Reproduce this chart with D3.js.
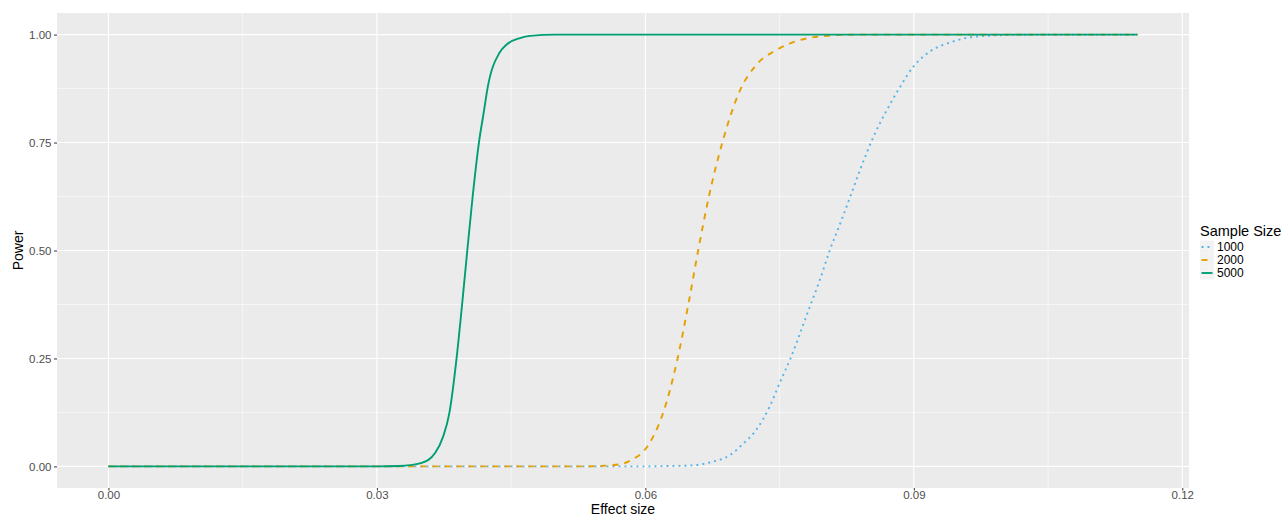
<!DOCTYPE html>
<html>
<head>
<meta charset="utf-8">
<script src="https://cdn.jsdelivr.net/npm/d3@7"></script>
<style>
  html, body { margin: 0; padding: 0; background: #ffffff; }
  svg { display: block; font-family: "Liberation Sans", Arial, Helvetica, sans-serif; }
</style>
</head>
<body>
<svg id="chart" width="1288" height="517"></svg>
<script>
// ---- Data ----
const sampleSizes = ["1000", "2000", "5000"];

const effect1000 = [0, 0.050, 0.0594, 0.0627, 0.0650, 0.0672, 0.0695, 0.0709, 0.0724, 0.0739, 0.0750, 0.0762, 0.0773, 0.0784, 0.0795, 0.0806, 0.0818, 0.0829, 0.0840, 0.0855, 0.0870, 0.0885, 0.0900, 0.0918, 0.0941, 0.0967, 0.1004, 0.1040, 0.115];
const power1000  = [0, 0,     0,      0.001,  0.002,  0.009,  0.027,  0.052,  0.085,  0.139,  0.193,  0.249,  0.309,  0.371,  0.432,  0.500,  0.564,  0.625,  0.687,  0.764,  0.826,  0.880,  0.927,  0.961,  0.982,  0.995,  0.999,  1,      1];

const effect2000 = [0, 0.050, 0.0527, 0.0549, 0.0572, 0.0586, 0.0598, 0.0609, 0.0620, 0.0636, 0.0648, 0.0659, 0.0671, 0.0686, 0.0706, 0.0724, 0.0747, 0.0769, 0.0792, 0.0836, 0.115];
const power2000  = [0, 0,     0,      0.001,  0.005,  0.017,  0.035,  0.070,  0.125,  0.250,  0.375,  0.500,  0.625,  0.750,  0.872,  0.930,  0.965,  0.985,  0.995,  1,      1];

const effect5000 = [0, 0.030, 0.0325, 0.0337, 0.0350, 0.0365, 0.0374, 0.0381, 0.0389, 0.0395, 0.0401, 0.0407, 0.0414, 0.0419, 0.0424, 0.0437, 0.0445, 0.0460, 0.0471, 0.0500, 0.115];
const power5000  = [0, 0,     0.001,  0.003,  0.008,  0.031,  0.069,  0.124,  0.250,  0.371,  0.500,  0.625,  0.750,  0.815,  0.880,  0.958,  0.977,  0.992,  0.997,  1,      1];

const xTicks = [0, 0.03, 0.06, 0.09, 0.12];
const xMinor = [0.015, 0.045, 0.075, 0.105];
const yTicks = [0, 0.25, 0.5, 0.75, 1];
const yMinor = [0.125, 0.375, 0.625, 0.875];

const seriesColors = ["#56B4E9", "#E69F00", "#009E73"];
const seriesDash = ["2,4", "6,6", null];

// ---- Build series ----
const series = [
  { name: sampleSizes[0], values: effect1000.map((e, i) => ({ x: e, y: power1000[i] })) },
  { name: sampleSizes[1], values: effect2000.map((e, i) => ({ x: e, y: power2000[i] })) },
  { name: sampleSizes[2], values: effect5000.map((e, i) => ({ x: e, y: power5000[i] })) }
];

// ---- Layout ----
const panel = { left: 57, right: 1189, top: 13, bottom: 488 };
const svg = d3.select("#chart");

const xMin = 0, xMax = 0.115, xPad = (xMax - xMin) * 0.05;
const x = d3.scaleLinear().domain([xMin - xPad, xMax + xPad]).range([panel.left, panel.right]);
const y = d3.scaleLinear().domain([-0.05, 1.05]).range([panel.bottom, panel.top]);

// Panel background
svg.append("rect")
  .attr("x", panel.left).attr("y", panel.top)
  .attr("width", panel.right - panel.left).attr("height", panel.bottom - panel.top)
  .attr("fill", "#EBEBEB");

// Grid
const grid = svg.append("g");
grid.selectAll(".xminor").data(xMinor).enter().append("line")
  .attr("x1", d => x(d)).attr("x2", d => x(d))
  .attr("y1", panel.top).attr("y2", panel.bottom)
  .attr("stroke", "#ffffff").attr("stroke-width", 0.55);
grid.selectAll(".yminor").data(yMinor).enter().append("line")
  .attr("y1", d => y(d)).attr("y2", d => y(d))
  .attr("x1", panel.left).attr("x2", panel.right)
  .attr("stroke", "#ffffff").attr("stroke-width", 0.55);
grid.selectAll(".xmajor").data(xTicks).enter().append("line")
  .attr("x1", d => x(d)).attr("x2", d => x(d))
  .attr("y1", panel.top).attr("y2", panel.bottom)
  .attr("stroke", "#ffffff").attr("stroke-width", 1.1);
grid.selectAll(".ymajor").data(yTicks).enter().append("line")
  .attr("y1", d => y(d)).attr("y2", d => y(d))
  .attr("x1", panel.left).attr("x2", panel.right)
  .attr("stroke", "#ffffff").attr("stroke-width", 1.1);

// Lines
const line = d3.line().x(d => x(d.x)).y(d => y(d.y)).curve(d3.curveMonotoneX);
series.forEach((s, i) => {
  svg.append("path")
    .datum(s.values)
    .attr("d", line)
    .attr("fill", "none")
    .attr("stroke", seriesColors[i])
    .attr("stroke-width", 1.9)
    .attr("stroke-linecap", "butt")
    .attr("stroke-dasharray", seriesDash[i]);
});

// Axes
const xAxis = d3.axisBottom(x).tickValues(xTicks).tickFormat(d3.format(".2f")).tickSize(2.5).tickPadding(0);
const yAxis = d3.axisLeft(y).tickValues(yTicks).tickFormat(d3.format(".2f")).tickSize(3).tickPadding(2.5);

const gx = svg.append("g").attr("transform", `translate(0,${panel.bottom})`).call(xAxis);
const gy = svg.append("g").attr("transform", `translate(${panel.left},0)`).call(yAxis);
[gx, gy].forEach(g => {
  g.select(".domain").remove();
  g.selectAll(".tick line").attr("stroke", "#333333").attr("stroke-width", 1);
  g.selectAll(".tick text").attr("fill", "#4D4D4D").attr("font-size", 11.5)
    .attr("font-family", "Liberation Sans, Arial, sans-serif");
});

// Axis titles
svg.append("text")
  .attr("x", (panel.left + panel.right) / 2).attr("y", 514)
  .attr("text-anchor", "middle").attr("font-size", 14).attr("fill", "#000")
  .text("Effect size");
svg.append("text")
  .attr("transform", `translate(23,${(panel.top + panel.bottom) / 2}) rotate(-90)`)
  .attr("text-anchor", "middle").attr("font-size", 14).attr("fill", "#000")
  .text("Power");

// Legend
const legend = svg.append("g");
legend.append("text").attr("x", 1200).attr("y", 236)
  .attr("font-size", 14.5).attr("fill", "#000").text("Sample Size");
const keyH = 13, keyW = 14, keyTop = 240.5, keyX = 1200;
series.forEach((s, i) => {
  const cy = keyTop + keyH * i + keyH / 2;
  legend.append("rect").attr("x", keyX).attr("y", keyTop + keyH * i)
    .attr("width", keyW).attr("height", keyH).attr("fill", "#F2F2F2");
  legend.append("line")
    .attr("x1", keyX + 1.5).attr("x2", keyX + keyW - 1.5)
    .attr("y1", cy).attr("y2", cy)
    .attr("stroke", seriesColors[i]).attr("stroke-width", 1.9)
    .attr("stroke-dasharray", seriesDash[i]);
  legend.append("text").attr("x", keyX + keyW + 3).attr("y", cy)
    .attr("dy", "0.36em").attr("font-size", 12).attr("fill", "#000")
    .text(s.name);
});
</script>
</body>
</html>
